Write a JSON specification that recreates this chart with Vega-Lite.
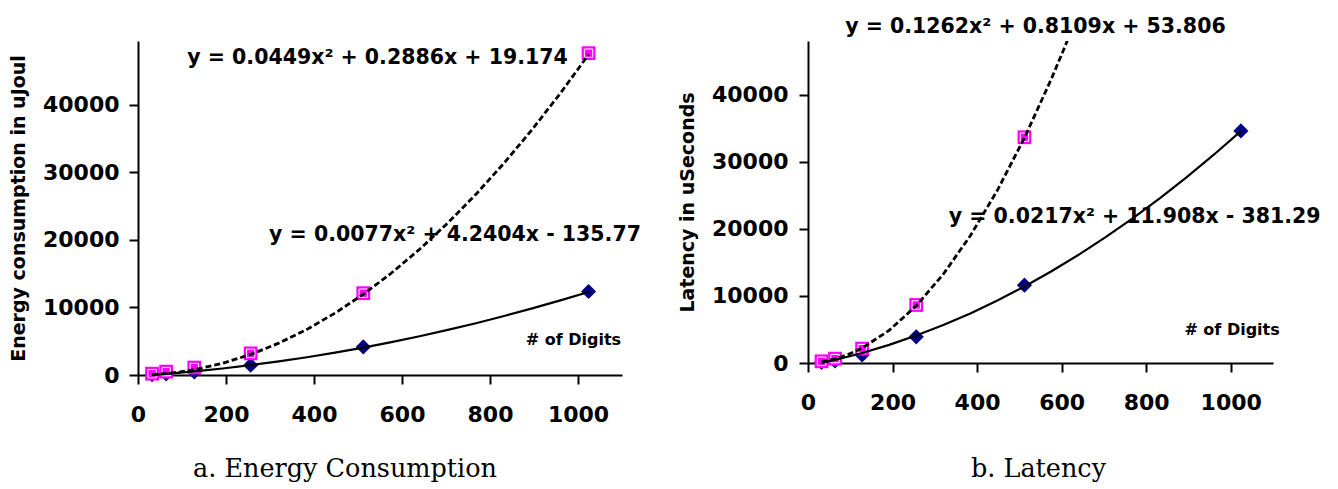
{
  "$schema": "https://vega.github.io/schema/vega-lite/v6.json",
  "background": "white",
  "padding": {"left": 9, "top": 16, "right": 5, "bottom": 5},
  "bounds": "flush",
  "spacing": 186,
  "config": {
    "view": {"stroke": null},
    "axis": {
      "domainColor": "black", "domainWidth": 2,
      "tickColor": "black", "tickWidth": 2, "tickSize": 9,
      "grid": false,
      "labelFont": "DejaVu Sans", "labelFontWeight": "bold", "labelFontSize": 22, "labelColor": "black",
      "titleFont": "DejaVu Sans", "titleFontWeight": "bold", "titleFontSize": 19, "titleColor": "black"
    }
  },
  "datasets": {
    "energy_points": [
      {"digits": 32, "series": "Series 1", "value": 50},
      {"digits": 64, "series": "Series 1", "value": 170},
      {"digits": 128, "series": "Series 1", "value": 450},
      {"digits": 256, "series": "Series 1", "value": 1450},
      {"digits": 512, "series": "Series 1", "value": 4150},
      {"digits": 1024, "series": "Series 1", "value": 12350},
      {"digits": 32, "series": "Series 2", "value": 200},
      {"digits": 64, "series": "Series 2", "value": 500},
      {"digits": 128, "series": "Series 2", "value": 1100},
      {"digits": 256, "series": "Series 2", "value": 3200},
      {"digits": 512, "series": "Series 2", "value": 12100},
      {"digits": 1024, "series": "Series 2", "value": 47600}
    ],
    "energy_trend": [
      {"digits": 32, "series": "Series 1", "value": 8},
      {"digits": 64, "series": "Series 1", "value": 167},
      {"digits": 96, "series": "Series 1", "value": 342},
      {"digits": 128, "series": "Series 1", "value": 533},
      {"digits": 192, "series": "Series 1", "value": 962},
      {"digits": 256, "series": "Series 1", "value": 1454},
      {"digits": 320, "series": "Series 1", "value": 2010},
      {"digits": 384, "series": "Series 1", "value": 2628},
      {"digits": 448, "series": "Series 1", "value": 3309},
      {"digits": 512, "series": "Series 1", "value": 4054},
      {"digits": 576, "series": "Series 1", "value": 4861},
      {"digits": 640, "series": "Series 1", "value": 5732},
      {"digits": 704, "series": "Series 1", "value": 6666},
      {"digits": 768, "series": "Series 1", "value": 7662},
      {"digits": 832, "series": "Series 1", "value": 8722},
      {"digits": 896, "series": "Series 1", "value": 9845},
      {"digits": 960, "series": "Series 1", "value": 11031},
      {"digits": 1024, "series": "Series 1", "value": 12280},
      {"digits": 32, "series": "Series 2", "value": 74},
      {"digits": 64, "series": "Series 2", "value": 222},
      {"digits": 96, "series": "Series 2", "value": 461},
      {"digits": 128, "series": "Series 2", "value": 792},
      {"digits": 192, "series": "Series 2", "value": 1730},
      {"digits": 256, "series": "Series 2", "value": 3036},
      {"digits": 320, "series": "Series 2", "value": 4709},
      {"digits": 384, "series": "Series 2", "value": 6751},
      {"digits": 448, "series": "Series 2", "value": 9160},
      {"digits": 512, "series": "Series 2", "value": 11937},
      {"digits": 576, "series": "Series 2", "value": 15082},
      {"digits": 640, "series": "Series 2", "value": 18595},
      {"digits": 704, "series": "Series 2", "value": 22476},
      {"digits": 768, "series": "Series 2", "value": 26724},
      {"digits": 832, "series": "Series 2", "value": 31340},
      {"digits": 896, "series": "Series 2", "value": 36324},
      {"digits": 960, "series": "Series 2", "value": 41676},
      {"digits": 1024, "series": "Series 2", "value": 47396}
    ],
    "energy_text": [
      {"digits": 112, "value": 46850, "label": "y = 0.0449x² + 0.2886x + 19.174"},
      {"digits": 298, "value": 20670, "label": "y = 0.0077x² + 4.2404x - 135.77"}
    ],
    "energy_note": [
      {"digits": 1098, "value": 5110, "label": "# of Digits"}
    ],
    "latency_points": [
      {"digits": 32, "series": "Series 1", "value": 100},
      {"digits": 64, "series": "Series 1", "value": 300},
      {"digits": 128, "series": "Series 1", "value": 1200},
      {"digits": 256, "series": "Series 1", "value": 3900},
      {"digits": 512, "series": "Series 1", "value": 11600},
      {"digits": 1024, "series": "Series 1", "value": 34600},
      {"digits": 32, "series": "Series 2", "value": 250},
      {"digits": 64, "series": "Series 2", "value": 650},
      {"digits": 128, "series": "Series 2", "value": 2150},
      {"digits": 256, "series": "Series 2", "value": 8650},
      {"digits": 512, "series": "Series 2", "value": 33650}
    ],
    "latency_trend": [
      {"digits": 32, "series": "Series 1", "value": 22},
      {"digits": 64, "series": "Series 1", "value": 470},
      {"digits": 96, "series": "Series 1", "value": 962},
      {"digits": 128, "series": "Series 1", "value": 1498},
      {"digits": 192, "series": "Series 1", "value": 2705},
      {"digits": 256, "series": "Series 1", "value": 4089},
      {"digits": 320, "series": "Series 1", "value": 5651},
      {"digits": 384, "series": "Series 1", "value": 7391},
      {"digits": 448, "series": "Series 1", "value": 9309},
      {"digits": 512, "series": "Series 1", "value": 11404},
      {"digits": 576, "series": "Series 1", "value": 13677},
      {"digits": 640, "series": "Series 1", "value": 16128},
      {"digits": 704, "series": "Series 1", "value": 18757},
      {"digits": 768, "series": "Series 1", "value": 21563},
      {"digits": 832, "series": "Series 1", "value": 24548},
      {"digits": 896, "series": "Series 1", "value": 27709},
      {"digits": 960, "series": "Series 1", "value": 31049},
      {"digits": 1024, "series": "Series 1", "value": 34567},
      {"digits": 32, "series": "Series 2", "value": 209},
      {"digits": 64, "series": "Series 2", "value": 623},
      {"digits": 96, "series": "Series 2", "value": 1295},
      {"digits": 128, "series": "Series 2", "value": 2225},
      {"digits": 192, "series": "Series 2", "value": 4862},
      {"digits": 256, "series": "Series 2", "value": 8532},
      {"digits": 320, "series": "Series 2", "value": 13236},
      {"digits": 384, "series": "Series 2", "value": 18974},
      {"digits": 448, "series": "Series 2", "value": 25746},
      {"digits": 512, "series": "Series 2", "value": 33552},
      {"digits": 576, "series": "Series 2", "value": 42391},
      {"digits": 608, "series": "Series 2", "value": 47198},
      {"digits": 640, "series": "Series 2", "value": 52264}
    ],
    "latency_text": [
      {"digits": 88, "value": 50150, "label": "y = 0.1262x² + 0.8109x + 53.806"},
      {"digits": 333, "value": 21750, "label": "y = 0.0217x² + 11.908x - 381.29"}
    ],
    "latency_note": [
      {"digits": 1116, "value": 4880, "label": "# of Digits"}
    ]
  },
  "hconcat": [
    {
      "width": 484,
      "height": 334,
      "title": {"text": "a. Energy Consumption", "orient": "bottom", "font": "DejaVu Serif", "fontSize": 25.5, "fontWeight": "normal", "color": "black", "anchor": "middle", "dx": -35, "offset": 32},
      "encoding": {
        "x": {"field": "digits", "type": "quantitative", "scale": {"domain": [0, 1100], "nice": false},
              "axis": {"title": null, "values": [0, 200, 400, 600, 800, 1000], "format": "d", "labelPadding": 20, "labelFlush": false, "labelOverlap": false}},
        "y": {"field": "value", "type": "quantitative", "scale": {"domain": [0, 49400], "nice": false},
              "axis": {"title": "Energy consumption in uJoul", "values": [0, 10000, 20000, 30000, 40000], "format": "d", "labelPadding": 10, "titlePadding": 14, "labelFlush": false, "labelOverlap": false}}
      },
      "layer": [
        {"data": {"name": "energy_points"}, "transform": [{"filter": "datum.series === 'Series 1'"}],
         "mark": {"type": "point", "shape": "diamond", "filled": true, "color": "#000080", "size": 230, "opacity": 1}},
        {"data": {"name": "energy_points"}, "transform": [{"filter": "datum.series === 'Series 2'"}],
         "mark": {"type": "point", "shape": "square", "filled": true, "color": "#FF00FF", "size": 190, "opacity": 1}},
        {"data": {"name": "energy_points"}, "transform": [{"filter": "datum.series === 'Series 2'"}],
         "mark": {"type": "point", "shape": "square", "filled": false, "stroke": "white", "strokeWidth": 1, "size": 70, "opacity": 1}},
        {"data": {"name": "energy_text"},
         "mark": {"type": "text", "align": "left", "baseline": "middle", "font": "DejaVu Sans", "fontWeight": "bold", "fontSize": 20.5, "color": "black"},
         "encoding": {"text": {"field": "label"}}},
        {"data": {"name": "energy_note"},
         "mark": {"type": "text", "align": "right", "baseline": "middle", "font": "DejaVu Sans", "fontWeight": "bold", "fontSize": 16, "color": "black"},
         "encoding": {"text": {"field": "label"}}},
        {"data": {"name": "energy_trend"}, "transform": [{"filter": "datum.series === 'Series 1'"}],
         "mark": {"type": "line", "color": "black", "strokeWidth": 2.2}},
        {"data": {"name": "energy_trend"}, "transform": [{"filter": "datum.series === 'Series 2'"}],
         "mark": {"type": "line", "color": "black", "strokeWidth": 2.8, "strokeDash": [6, 3]}}
      ]
    },
    {
      "width": 465,
      "height": 322,
      "title": {"text": "b. Latency", "orient": "bottom", "font": "DejaVu Serif", "fontSize": 25.5, "fontWeight": "normal", "color": "black", "anchor": "middle", "dx": -2, "offset": 44},
      "encoding": {
        "x": {"field": "digits", "type": "quantitative", "scale": {"domain": [0, 1100], "nice": false},
              "axis": {"title": null, "values": [0, 200, 400, 600, 800, 1000], "format": "d", "labelPadding": 20, "labelFlush": false, "labelOverlap": false}},
        "y": {"field": "value", "type": "quantitative", "scale": {"domain": [0, 48000], "nice": false},
              "axis": {"title": "Latency in uSeconds", "values": [0, 10000, 20000, 30000, 40000], "format": "d", "labelPadding": 11, "titlePadding": 14, "labelFlush": false, "labelOverlap": false}}
      },
      "layer": [
        {"data": {"name": "latency_points"}, "transform": [{"filter": "datum.series === 'Series 1'"}],
         "mark": {"type": "point", "shape": "diamond", "filled": true, "color": "#000080", "size": 230, "opacity": 1}},
        {"data": {"name": "latency_points"}, "transform": [{"filter": "datum.series === 'Series 2'"}],
         "mark": {"type": "point", "shape": "square", "filled": true, "color": "#FF00FF", "size": 190, "opacity": 1}},
        {"data": {"name": "latency_points"}, "transform": [{"filter": "datum.series === 'Series 2'"}],
         "mark": {"type": "point", "shape": "square", "filled": false, "stroke": "white", "strokeWidth": 1, "size": 70, "opacity": 1}},
        {"data": {"name": "latency_text"},
         "mark": {"type": "text", "align": "left", "baseline": "middle", "font": "DejaVu Sans", "fontWeight": "bold", "fontSize": 20.5, "color": "black"},
         "encoding": {"text": {"field": "label"}}},
        {"data": {"name": "latency_note"},
         "mark": {"type": "text", "align": "right", "baseline": "middle", "font": "DejaVu Sans", "fontWeight": "bold", "fontSize": 16, "color": "black"},
         "encoding": {"text": {"field": "label"}}},
        {"data": {"name": "latency_trend"}, "transform": [{"filter": "datum.series === 'Series 1'"}],
         "mark": {"type": "line", "color": "black", "strokeWidth": 2.2}},
        {"data": {"name": "latency_trend"}, "transform": [{"filter": "datum.series === 'Series 2'"}],
         "mark": {"type": "line", "color": "black", "strokeWidth": 2.8, "strokeDash": [6, 3], "clip": true}}
      ]
    }
  ]
}
